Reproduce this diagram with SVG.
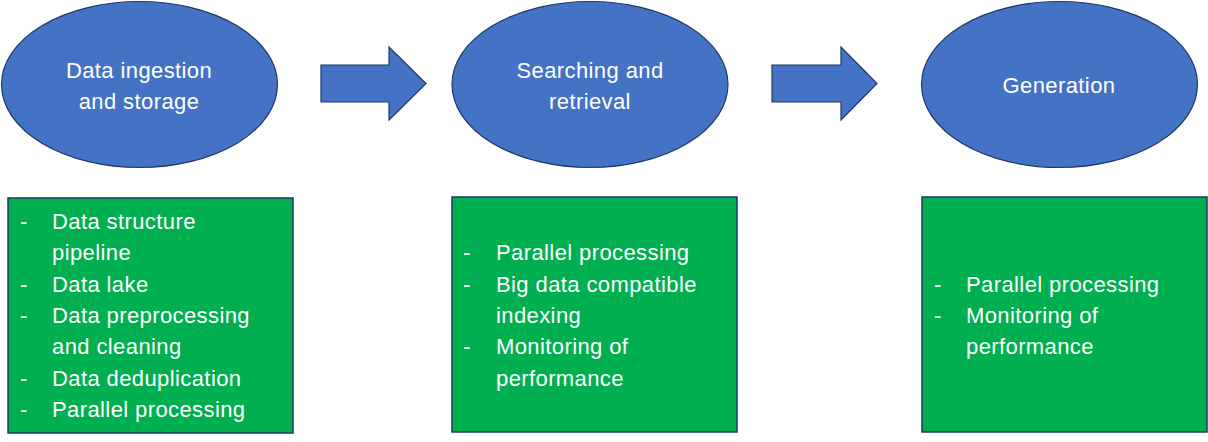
<svg xmlns="http://www.w3.org/2000/svg" width="1208" height="442" viewBox="0 0 1208 442">
<style>
.oval{fill:#4472C4;stroke:#1F3864;stroke-width:1.2}
.box{fill:#00B050;stroke:#1F3864;stroke-width:1.5}
.arrow{fill:#4472C4;stroke:#1F3864;stroke-width:1.2}
text{font-family:"Liberation Sans",Arial,sans-serif;font-size:22px;letter-spacing:0.4px;fill:#FFFFFF}
.c{text-anchor:middle}
</style>
<rect width="1208" height="442" fill="#FFFFFF"/>
<g id="connectors">
<polygon class="arrow" points="321,65 389,65 389,47 426,83.5 389,120 389,102 321,102"/>
<polygon class="arrow" points="772,65 841,65 841,47 877,83.5 841,120 841,102 772,102"/>
</g>
<g id="node-ingestion">
<ellipse class="oval" cx="139.5" cy="84.5" rx="138" ry="83"/>
<text class="c" x="139" y="78">Data ingestion</text>
<text class="c" x="139" y="109">and storage</text>
</g>
<g id="node-searching">
<ellipse class="oval" cx="590" cy="84.5" rx="138" ry="83"/>
<text class="c" x="590" y="78">Searching and</text>
<text class="c" x="590" y="109">retrieval</text>
</g>
<g id="node-generation">
<ellipse class="oval" cx="1059.5" cy="84.5" rx="138" ry="83"/>
<text class="c" x="1059" y="93">Generation</text>
</g>
<g id="box-ingestion">
<rect class="box" x="8" y="198" width="285" height="235"/>
<text x="20" y="229">-</text><text x="52" y="229">Data structure</text>
<text x="52" y="260">pipeline</text>
<text x="20" y="292">-</text><text x="52" y="292">Data lake</text>
<text x="20" y="323">-</text><text x="52" y="323">Data preprocessing</text>
<text x="52" y="354">and cleaning</text>
<text x="20" y="386">-</text><text x="52" y="386">Data deduplication</text>
<text x="20" y="417">-</text><text x="52" y="417">Parallel processing</text>
</g>
<g id="box-searching">
<rect class="box" x="452" y="197" width="285" height="235"/>
<text x="463" y="260">-</text><text x="496" y="260">Parallel processing</text>
<text x="463" y="292">-</text><text x="496" y="292">Big data compatible</text>
<text x="496" y="323">indexing</text>
<text x="463" y="354">-</text><text x="496" y="354">Monitoring of</text>
<text x="496" y="386">performance</text>
</g>
<g id="box-generation">
<rect class="box" x="922" y="197" width="285" height="235"/>
<text x="934" y="292">-</text><text x="966" y="292">Parallel processing</text>
<text x="934" y="323">-</text><text x="966" y="323">Monitoring of</text>
<text x="966" y="354">performance</text>
</g>
</svg>
